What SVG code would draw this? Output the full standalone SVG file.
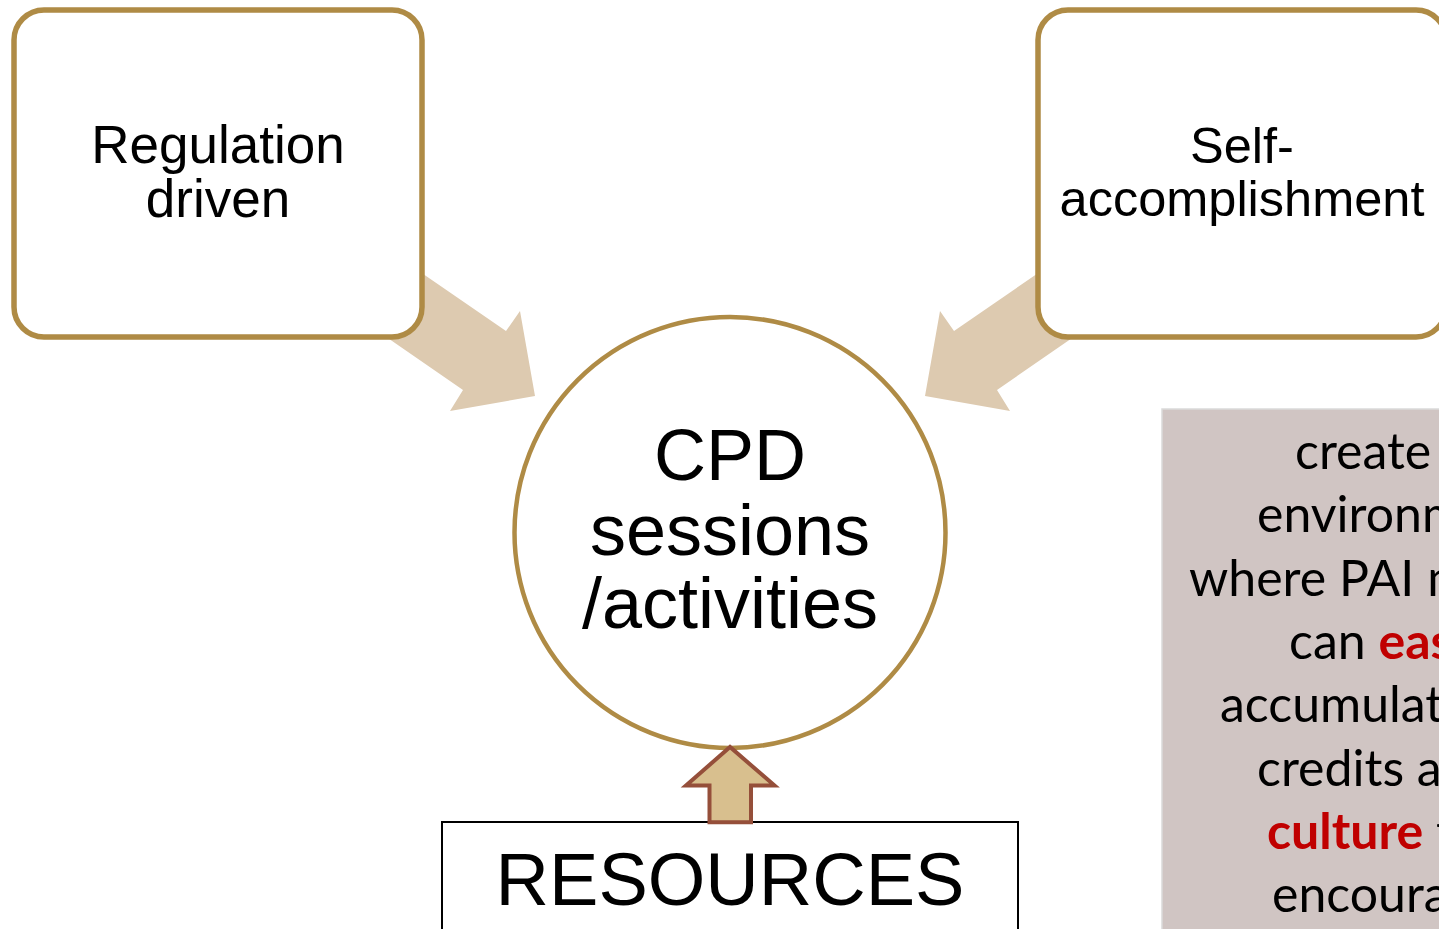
<svg xmlns="http://www.w3.org/2000/svg" width="1439" height="929" viewBox="0 0 1439 929">
<style>
.box{fill:#FFFFFF;stroke:#AF8B45;stroke-width:5.5}
.big{fill:#DDCAB0}
.ar{font-family:"Liberation Sans",Arial,sans-serif;fill:#000;text-anchor:middle}
.cal{font-family:Lato,"Open Sans",sans-serif;font-size:50px;fill:#000}
.red{fill:#C00000;font-weight:bold}
</style>
<rect width="1439" height="929" fill="#FFFFFF"/>
<g id="connectors">
<polygon class="big" points="365,234 506,331 520,311 535,396 450,411 463,390 340,305"/>
<polygon class="big" points="1095,234 954,331 940,311 925,396 1010,411 997,390 1120,305"/>
</g>
<g id="node-regulation">
<rect class="box" x="14" y="10" width="408" height="327" rx="30"/>
<text class="ar" font-size="53"><tspan x="218" y="163">Regulation</tspan><tspan x="218" y="217">driven</tspan></text>
</g>
<g id="node-self">
<rect class="box" x="1038" y="10" width="408" height="327" rx="30"/>
<text class="ar" font-size="50.5"><tspan x="1242" y="163">Self-</tspan><tspan x="1242" y="216">accomplishment</tspan></text>
</g>
<g id="node-cpd">
<circle cx="730" cy="532.5" r="215.5" fill="#FFFFFF" stroke="#AF8B45" stroke-width="4.5"/>
<text class="ar" font-size="72"><tspan x="730" y="480">CPD</tspan><tspan x="730" y="555">sessions</tspan><tspan x="730" y="628">/activities</tspan></text>
</g>
<g id="node-resources">
<rect x="442" y="822" width="576" height="140" fill="#FFFFFF" stroke="#000000" stroke-width="2"/>
<text class="ar" font-size="74" x="730" y="905">RESOURCES</text>
</g>
<g id="arrow-up">
<polygon points="730,747 686,785.5 709.5,785.5 709.5,822.3 751,822.3 751,785.5 774.5,785.5" fill="#D8BF8E" stroke="#954F3A" stroke-width="4" stroke-linejoin="miter"/>
</g>
<g id="node-note">
<rect x="1162" y="409" width="400" height="600" fill="#D0C5C3" stroke="#DADADA" stroke-width="1.5"/>
<text class="cal" x="1295" y="469">create</text>
<text class="cal" x="1257" y="532">environm</text>
<text class="cal" x="1189" y="596">where PAI m</text>
<text class="cal" x="1289" y="659">can <tspan class="red">eas</tspan></text>
<text class="cal" x="1220" y="722">accumulat</text>
<text class="cal" x="1257" y="786">credits a</text>
<text class="cal" x="1267" y="849"><tspan class="red">culture</tspan> t</text>
<text class="cal" x="1272" y="912">encoura</text>
</g>
</svg>
